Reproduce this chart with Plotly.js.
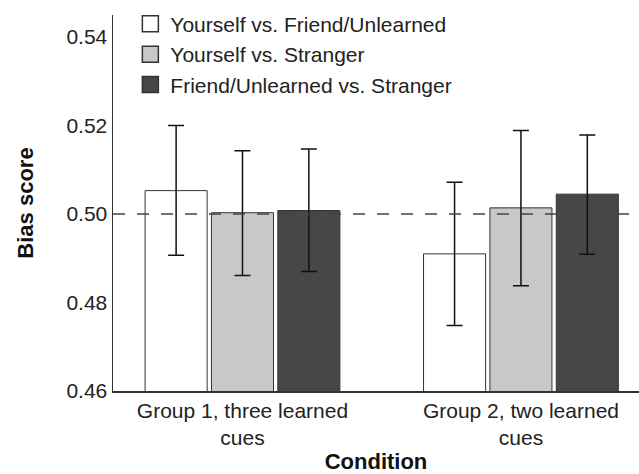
<!DOCTYPE html>
<html>
<head>
<meta charset="utf-8">
<script src="https://cdn.plot.ly/plotly-3.0.1.min.js"></script>
<style>html,body{margin:0;padding:0;background:#fff;}#chart{width:639px;height:474px;}</style>
</head>
<body>
<div id="chart"></div>
<script>
var categories = ["Group 1, three learned<br>cues", "Group 2, two learned<br>cues"];
var seriesNames = ["Yourself vs. Friend/Unlearned", "Yourself vs. Stranger", "Friend/Unlearned vs. Stranger"];
var meanSelfFriend = [0.5053, 0.4910];
var meanSelfStranger = [0.5003, 0.5014];
var meanFriendStranger = [0.5008, 0.5045];
var upperSelfFriend = [0.5200, 0.5072];
var lowerSelfFriend = [0.4907, 0.4748];
var upperSelfStranger = [0.5143, 0.5189];
var lowerSelfStranger = [0.4861, 0.4838];
var upperFriendStranger = [0.5147, 0.5179];
var lowerFriendStranger = [0.4870, 0.4909];
var yTicks = [0.46, 0.48, 0.50, 0.52, 0.54];
var referenceLine = 0.50;

var colors = ["#ffffff", "#c8c8c8", "#474747"];
var means = [meanSelfFriend, meanSelfStranger, meanFriendStranger];
var uppers = [upperSelfFriend, upperSelfStranger, upperFriendStranger];
var lowers = [lowerSelfFriend, lowerSelfStranger, lowerFriendStranger];

var font = "Liberation Sans, Arial, sans-serif";
var traces = means.map(function (m, i) {
  return {
    type: "bar",
    name: seriesNames[i],
    x: [0, 1],
    y: m,
    showlegend: false,
    marker: {color: colors[i], line: {color: "#333333", width: 1}},
    error_y: {
      type: "data", symmetric: false,
      array: m.map(function (v, j) { return uppers[i][j] - v; }),
      arrayminus: m.map(function (v, j) { return v - lowers[i][j]; }),
      color: "#111111", thickness: 1.5, width: 8
    }
  };
});
// legend entries with larger square swatches
seriesNames.forEach(function (n, i) {
  traces.push({
    type: "scatter", mode: "markers", name: n, x: [null], y: [null],
    marker: {symbol: "square", size: 16, color: colors[i], line: {color: "#333333", width: 1.5}},
    showlegend: true
  });
});

var layout = {
  width: 639, height: 474,
  margin: {l: 113, r: 0, t: 15, b: 83},
  paper_bgcolor: "#ffffff", plot_bgcolor: "#ffffff",
  font: {family: font, color: "#333333", size: 21},
  barmode: "group", bargap: 0.285, bargroupgap: 0.065,
  showlegend: true,
  legend: {x: 0.033, y: 1.03, xanchor: "left", yanchor: "top", bgcolor: "rgba(0,0,0,0)",
           font: {size: 21, family: font, color: "#222222"}, tracegroupgap: 0, itemwidth: 30},
  xaxis: {
    range: [-0.465, 1.424], tickvals: [0, 1], ticktext: categories,
    showline: true, linecolor: "#333333", linewidth: 1.5, ticks: "", showgrid: false, zeroline: false,
    tickfont: {size: 21, color: "#222222"},
    title: {text: "<b>Condition</b>", font: {size: 22, color: "#111111"}, standoff: 13}
  },
  yaxis: {
    range: [0.46, 0.545], tickvals: yTicks, tickformat: ".2f",
    showline: true, linecolor: "#333333", linewidth: 1.5, ticks: "", showgrid: false, zeroline: false,
    tickfont: {size: 21, color: "#222222"},
    title: {text: "<b>Bias score</b>", font: {size: 22, color: "#111111"}, standoff: 26}
  },
  shapes: [{type: "line", xref: "paper", x0: 0, x1: 1, yref: "y", y0: referenceLine, y1: referenceLine,
            line: {color: "#444444", width: 1.5, dash: "12px,12px"}}]
};

Plotly.newPlot("chart", traces, layout, {displayModeBar: false, staticPlot: true});
</script>
</body>
</html>
